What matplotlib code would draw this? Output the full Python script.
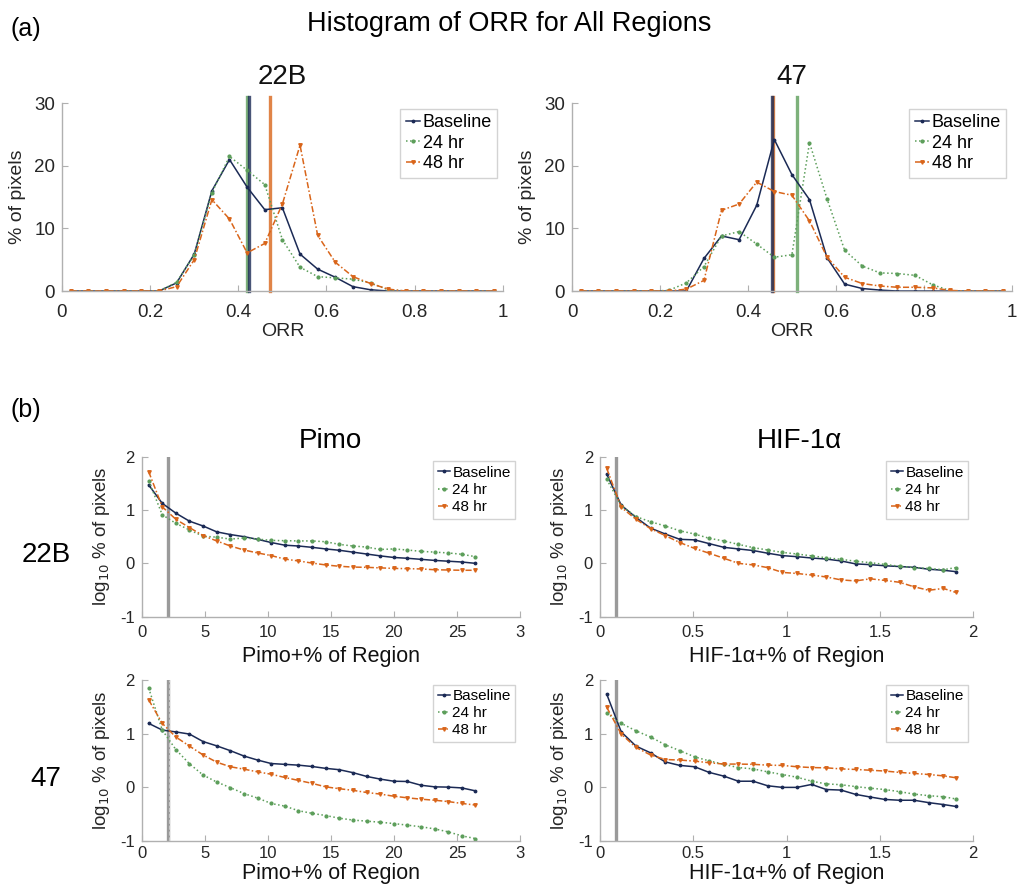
import matplotlib
matplotlib.use("Agg")
import matplotlib.pyplot as plt

plt.rcParams['font.family'] = ['Liberation Sans', 'DejaVu Sans']
plt.rcParams['axes.unicode_minus'] = False

# ---- data: histograms of ORR (panel a) ----
orr_bins = [0.02, 0.06, 0.10, 0.14, 0.18, 0.22, 0.26, 0.30, 0.34, 0.38, 0.42, 0.46, 0.50,
            0.54, 0.58, 0.62, 0.66, 0.70, 0.74, 0.78, 0.82, 0.86, 0.90, 0.94, 0.98]

hist_22b_base = [0, 0, 0, 0, 0, 0, 1.3, 5.9, 16.0, 21.0, 16.6, 13.0, 13.3,
                 5.9, 3.5, 2.2, 0.7, 0.2, 0, 0, 0, 0, 0, 0, 0]
hist_22b_24 = [0, 0, 0, 0, 0, 0, 1.4, 5.8, 15.7, 21.5, 19.3, 17.0, 8.2,
               3.8, 2.3, 2.1, 1.9, 1.3, 0.2, 0, 0, 0, 0, 0, 0]
hist_22b_48 = [0, 0, 0, 0, 0, 0, 0.7, 5.0, 14.6, 11.5, 6.1, 7.6, 13.9,
               23.3, 8.9, 4.6, 2.3, 1.2, 0.3, 0, 0, 0, 0, 0, 0]

hist_47_base = [0, 0, 0, 0, 0, 0, 0, 5.2, 8.8, 8.2, 13.7, 24.2, 18.6,
                14.6, 5.3, 1.1, 0.4, 0.15, 0, 0, 0, 0, 0, 0, 0]
hist_47_24 = [0, 0, 0, 0, 0, 0.1, 1.3, 3.9, 8.8, 9.5, 7.5, 5.4, 5.8,
              23.7, 14.7, 6.5, 4.0, 2.9, 2.8, 2.5, 1.0, 0.05, 0, 0, 0]
hist_47_48 = [0, 0, 0, 0, 0, 0, 0.3, 1.7, 12.9, 13.9, 17.4, 15.9, 15.3,
              11.2, 5.4, 2.2, 1.2, 0.8, 0.6, 0.6, 0.5, 0.1, 0, 0, 0]

# mean ORR markers (baseline, 24 hr, 48 hr)
mean_22b = [0.424, 0.420, 0.471]
mean_47 = [0.455, 0.512, 0.458]

# ---- data: log10 % of pixels vs stain+ % of region (panel b) ----
pimo_x = [0.55, 1.63, 2.71, 3.79, 4.87, 5.95, 7.03, 8.11, 9.19, 10.27, 11.35, 12.43, 13.51,
          14.59, 15.67, 16.75, 17.83, 18.91, 19.99, 21.07, 22.15, 23.23, 24.31, 25.39, 26.47]
hif_x = [0.036, 0.114, 0.193, 0.271, 0.350, 0.428, 0.507, 0.585, 0.664, 0.742, 0.821, 0.899, 0.978,
         1.056, 1.135, 1.213, 1.292, 1.370, 1.449, 1.527, 1.606, 1.684, 1.763, 1.841, 1.907]

pimo_22b_base = [1.47, 1.125, 0.94, 0.79, 0.70, 0.59, 0.54, 0.50, 0.45, 0.39, 0.34, 0.325, 0.30,
                 0.27, 0.245, 0.21, 0.175, 0.14, 0.11, 0.095, 0.075, 0.055, 0.04, 0.025, 0.0]
pimo_22b_24 = [1.55, 0.91, 0.75, 0.625, 0.51, 0.49, 0.455, 0.475, 0.455, 0.43, 0.425, 0.42, 0.42,
               0.405, 0.355, 0.325, 0.305, 0.26, 0.27, 0.25, 0.225, 0.21, 0.195, 0.17, 0.125]
pimo_22b_48 = [1.72, 1.06, 0.825, 0.67, 0.52, 0.42, 0.325, 0.25, 0.195, 0.145, 0.08, 0.045, 0.005,
               -0.03, -0.055, -0.07, -0.075, -0.085, -0.095, -0.10, -0.105, -0.12, -0.125, -0.13, -0.13]

hif_22b_base = [1.67, 1.09, 0.86, 0.66, 0.55, 0.45, 0.44, 0.37, 0.30, 0.27, 0.24, 0.19, 0.145,
                0.125, 0.10, 0.08, 0.045, -0.01, -0.025, -0.045, -0.06, -0.075, -0.11, -0.13, -0.155]
hif_22b_24 = [1.575, 1.08, 0.875, 0.78, 0.70, 0.61, 0.55, 0.47, 0.42, 0.355, 0.295, 0.25, 0.205,
              0.175, 0.14, 0.105, 0.075, 0.04, 0.0125, -0.02, -0.055, -0.08, -0.095, -0.12, -0.08]
hif_22b_48 = [1.78, 1.05, 0.825, 0.65, 0.52, 0.39, 0.28, 0.19, 0.095, 0.0, -0.03, -0.08, -0.17,
              -0.19, -0.22, -0.255, -0.31, -0.33, -0.29, -0.32, -0.355, -0.44, -0.505, -0.47, -0.545]

pimo_47_base = [1.19, 1.065, 1.03, 0.99, 0.85, 0.77, 0.68, 0.58, 0.505, 0.44, 0.425, 0.41, 0.385,
                0.35, 0.325, 0.27, 0.20, 0.15, 0.11, 0.105, 0.035, 0.005, 0.0, -0.015, -0.07]
pimo_47_24 = [1.85, 1.065, 0.70, 0.435, 0.225, 0.095, -0.01, -0.12, -0.205, -0.305, -0.355, -0.44, -0.49,
              -0.53, -0.58, -0.615, -0.635, -0.655, -0.68, -0.71, -0.74, -0.78, -0.835, -0.91, -0.96]
pimo_47_48 = [1.63, 1.19, 0.935, 0.765, 0.60, 0.465, 0.38, 0.335, 0.285, 0.24, 0.18, 0.125, 0.07,
              0.005, -0.03, -0.06, -0.10, -0.13, -0.17, -0.20, -0.225, -0.245, -0.27, -0.305, -0.335]

hif_47_base = [1.735, 1.03, 0.765, 0.64, 0.47, 0.405, 0.38, 0.275, 0.205, 0.11, 0.11, 0.025, -0.005,
               -0.005, 0.05, -0.045, -0.055, -0.135, -0.185, -0.23, -0.245, -0.245, -0.29, -0.325, -0.36]
hif_47_24 = [1.38, 1.19, 1.05, 0.935, 0.79, 0.68, 0.565, 0.49, 0.425, 0.365, 0.34, 0.285, 0.235,
             0.185, 0.11, 0.06, 0.045, 0.01, -0.02, -0.045, -0.085, -0.13, -0.16, -0.18, -0.22]
hif_47_48 = [1.49, 0.99, 0.74, 0.60, 0.515, 0.505, 0.485, 0.455, 0.43, 0.43, 0.425, 0.41, 0.405,
             0.38, 0.365, 0.36, 0.34, 0.33, 0.315, 0.30, 0.275, 0.255, 0.235, 0.21, 0.175]

pimo_cut = 2.05
hif_cut = 0.085

labels = ["Baseline", "24 hr", "48 hr"]
colors = ["#1b2a55", "#5c9e5a", "#d9651a"]
styles = ["-", ":", (0, (4, 1.5, 1, 1.5))]
marks = [".", "o", "v"]
msizes = [3.5, 2.0, 2.5]

spine_col = "#b0b0b0"
text_col = "#262626"


def style_axes(ax, xpad):
    for s in ["top", "right"]:
        ax.spines[s].set_visible(False)
    for s in ["left", "bottom"]:
        ax.spines[s].set_color(spine_col)
        ax.spines[s].set_linewidth(1.0)
    ax.tick_params(direction="in", length=4, color=spine_col, labelcolor=text_col)
    ax.tick_params(axis="x", pad=xpad)
    ax.tick_params(axis="y", pad=5)


def draw_series(ax, x, ys, leg_size):
    for y, lab, c, ls, m, ms in zip(ys, labels, colors, styles, marks, msizes):
        ax.plot(x, y, color=c, ls=ls, lw=1.1, marker=m, ms=ms, label=lab)
    leg = ax.legend(loc="upper right", fontsize=leg_size, frameon=True, fancybox=False,
                    handlelength=0.8, handletextpad=0.15, borderpad=0.3, labelspacing=0.2,
                    borderaxespad=0.3)
    leg.get_frame().set_edgecolor("#c8c8c8")
    leg.get_frame().set_linewidth(1.0)


fig = plt.figure(figsize=(10.18, 8.9), dpi=100)

# ---- panel (a) ----
top_axes = [
    (fig.add_axes([0.0609, 0.673, 0.433, 0.211]), [hist_22b_base, hist_22b_24, hist_22b_48], mean_22b, "22B"),
    (fig.add_axes([0.5619, 0.673, 0.432, 0.211]), [hist_47_base, hist_47_24, hist_47_48], mean_47, "47"),
]
for ax, ys, means, title in top_axes:
    style_axes(ax, 9)
    order = [1, 0, 2] if title == "22B" else [2, 0, 1]
    for i in order:
        ax.plot([means[i], means[i]], [0, 31], color=colors[i], lw=2.4, alpha=0.8,
                zorder=1, clip_on=False)
    draw_series(ax, orr_bins, ys, 13)
    ax.set_xlim(0, 1)
    ax.set_ylim(0, 30)
    ax.set_xticks([0, 0.2, 0.4, 0.6, 0.8, 1])
    ax.set_xticklabels(["0", "0.2", "0.4", "0.6", "0.8", "1"])
    ax.set_yticks([0, 10, 20, 30])
    ax.tick_params(labelsize=13.5)
    ax.set_xlabel("ORR", fontsize=14, color=text_col, labelpad=2)
    ax.set_ylabel("% of pixels", fontsize=14, color=text_col, labelpad=6)
    ax.set_title(title, fontsize=20, pad=14, color="#111111")

# ---- panel (b) ----
pimo_ticks = [0, 5, 10, 15, 20, 25, 30]
pimo_ticklabels = ["0", "5", "10", "15", "20", "25", "3"]
hif_ticks = [0, 0.5, 1, 1.5, 2]
hif_ticklabels = ["0", "0.5", "1", "1.5", "2"]

bottom_axes = [
    ([0.1392, 0.3071, 0.3716, 0.1798], pimo_x, [pimo_22b_base, pimo_22b_24, pimo_22b_48], pimo_cut, 30, pimo_ticks, pimo_ticklabels, "Pimo+% of Region"),
    ([0.5894, 0.3071, 0.3664, 0.1798], hif_x, [hif_22b_base, hif_22b_24, hif_22b_48], hif_cut, 2, hif_ticks, hif_ticklabels, "HIF-1α+% of Region"),
    ([0.1392, 0.0554, 0.3716, 0.1806], pimo_x, [pimo_47_base, pimo_47_24, pimo_47_48], pimo_cut, 30, pimo_ticks, pimo_ticklabels, "Pimo+% of Region"),
    ([0.5894, 0.0554, 0.3664, 0.1806], hif_x, [hif_47_base, hif_47_24, hif_47_48], hif_cut, 2, hif_ticks, hif_ticklabels, "HIF-1α+% of Region"),
]
for k, (pos, x, ys, cut, xmax, ticks, ticklabels, xlabel) in enumerate(bottom_axes):
    ax = fig.add_axes(pos)
    style_axes(ax, 6 if k < 2 else 4)
    ax.axvline(cut, color="#9a9a9a", lw=2.4, zorder=1)
    if k == 2:
        ax.axvline(cut + 0.13, color="#c8c8c8", lw=0.8, ls="--", zorder=1)
    draw_series(ax, x, ys, 11)
    ax.set_xlim(0, xmax)
    ax.set_ylim(-1, 2)
    ax.set_xticks(ticks)
    ax.set_xticklabels(ticklabels)
    ax.set_yticks([-1, 0, 1, 2])
    ax.set_yticklabels(["-1", "0", "1", "2"])
    ax.tick_params(labelsize=12)
    ax.set_xlabel(xlabel, fontsize=15.5, color="#111111", labelpad=4 if k < 2 else 1)
    ax.set_ylabel("log$_{10}$ % of pixels", fontsize=13.5, color=text_col, labelpad=6)

# ---- figure text ----
fig.text(0.010, 0.967, "(a)", fontsize=18, ha="left", va="center")
fig.text(0.5, 0.973, "Histogram of ORR for All Regions", fontsize=19.5, ha="center", va="center")
fig.text(0.010, 0.539, "(b)", fontsize=18, ha="left", va="center")
fig.text(0.325, 0.505, "Pimo", fontsize=20, ha="center", va="center")
fig.text(0.785, 0.505, "HIF-1α", fontsize=20, ha="center", va="center")
fig.text(0.045, 0.376, "22B", fontsize=20, ha="center", va="center")
fig.text(0.045, 0.125, "47", fontsize=20, ha="center", va="center")

fig.savefig("out.png", dpi=100)
